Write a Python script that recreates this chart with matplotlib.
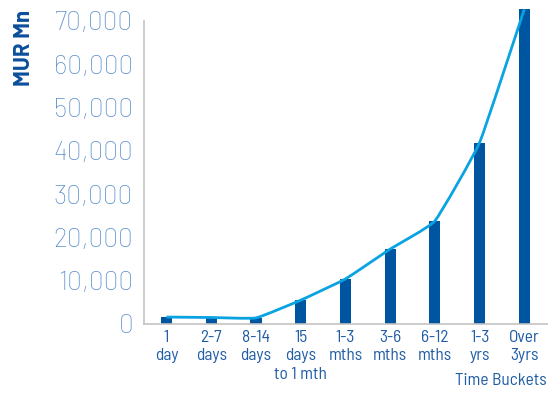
import matplotlib
matplotlib.use("Agg")
import matplotlib.pyplot as plt
from matplotlib.path import Path
from matplotlib.patches import PathPatch
from matplotlib.ticker import FuncFormatter
import numpy as np

categories = ["1\nday", "2-7\ndays", "8-14\ndays", "15\ndays\nto 1 mth",
              "1-3\nmths", "3-6\nmths", "6-12\nmths", "1-3\nyrs", "Over\n3yrs"]
values = [1600, 1500, 1400, 5500, 10400, 17300, 23800, 41900, 72700]
y_ticks = [0, 10000, 20000, 30000, 40000, 50000, 60000, 70000]

BAR_COLOR = "#0055a0"
LINE_COLOR = "#0aa3e2"
TICK_COLOR = "#5a8fcd"
CAT_COLOR = "#1f5ca6"
TITLE_COLOR = "#0b4f9c"
CAT_FONT = ["Barlow Semi Condensed", "DejaVu Sans"]

fig = plt.figure(figsize=(5.48, 3.93), dpi=100)
ax = fig.add_axes([0.263, 0.1756, 0.737, 0.771])

x = np.arange(len(categories))
ax.bar(x, values, width=0.25, color=BAR_COLOR, clip_on=False, zorder=2)

# lightly smoothed trend line through the bar tops (cubic Bezier segments)
tension = 0.06
pts = np.column_stack([x, values]).astype(float)
verts = [tuple(pts[0])]
codes = [Path.MOVETO]
n = len(pts)
for i in range(n - 1):
    p0 = pts[max(i - 1, 0)]
    p1 = pts[i]
    p2 = pts[i + 1]
    p3 = pts[min(i + 2, n - 1)]
    c1 = p1 + (p2 - p0) * tension
    c2 = p2 - (p3 - p1) * tension
    verts += [tuple(c1), tuple(c2), tuple(p2)]
    codes += [Path.CURVE4] * 3
ax.add_patch(PathPatch(Path(verts, codes), facecolor="none",
                       edgecolor=LINE_COLOR, lw=2, clip_on=False, zorder=3))

ax.set_xlim(-0.5, 8.53)
ax.set_ylim(0, 70000)
ax.set_yticks(y_ticks)
ax.yaxis.set_major_formatter(FuncFormatter(lambda v, p: f"{int(v):,}"))
ax.tick_params(axis="y", length=0, pad=8, labelsize=19, labelcolor=TICK_COLOR)
for lbl in ax.get_yticklabels():
    lbl.set_fontfamily(["Barlow", "DejaVu Sans"])
    lbl.set_fontweight("light")

ax.set_xticks(x)
ax.set_xticklabels(categories, fontsize=12.5, color=CAT_COLOR,
                   family=CAT_FONT, linespacing=1.3, va="top")
ax.tick_params(axis="x", length=0, pad=4)

for side in ["top", "right"]:
    ax.spines[side].set_visible(False)
for side in ["left", "bottom"]:
    ax.spines[side].set_color("#c3c3c3")
    ax.spines[side].set_linewidth(1.2)

fig.text(0.043, 0.878, "MUR Mn", rotation=90, ha="center", va="center",
         fontsize=16, fontweight="bold", color=TITLE_COLOR,
         family=["Barlow", "DejaVu Sans"])
fig.text(0.998, 0.033, "Time Buckets", ha="right", va="center",
         fontsize=12.5, color=CAT_COLOR, family=CAT_FONT)

fig.savefig("out.png", dpi=100)
